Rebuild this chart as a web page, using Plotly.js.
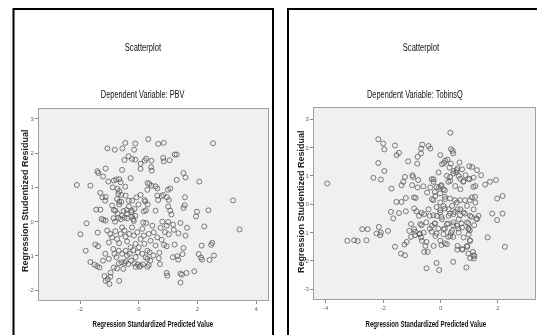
<!DOCTYPE html>
<html>
<head>
<meta charset="utf-8">
<script src="https://cdn.plot.ly/plotly-3.0.1.min.js"></script>
<style>html,body{margin:0;padding:0;background:#fff;}#chart{width:537px;height:335px;filter:grayscale(1);}</style>
</head>
<body>
<div id="chart"></div>
<script>
// Left chart: Dependent Variable PBV
const pbvX = [-2.11,-1.65,-1.07,-0.82,-0.56,-0.46,-0.12,-0.16,0.32,0.66,0.85,2.53,-0.35,-0.23,-0.12,-0.49,0.06,0.20,0.25,0.43,0.83,0.85,1.05,1.22,1.29,0.06,0.42,0.44,-1.41,-1.38,-1.13,-1.22,-0.57,-1.04,-0.85,-0.77,-0.67,-0.62,-0.89,-0.73,-0.67,-0.70,-0.46,-0.28,0.30,0.36,0.43,0.57,0.63,0.29,0.99,1.07,1.29,1.52,1.59,2.06,1.57,3.21,-1.31,-1.24,-1.13,-1.15,0.63,0.78,0.83,0.96,1.02,0.66,0.19,0.22,0.30,-0.67,-0.60,-0.67,-0.34,-0.01,0.24,0.17,0.57,1.00,1.07,1.11,1.56,1.52,1.98,1.95,2.37,-1.45,-1.31,-0.85,-0.80,-0.52,-0.42,-0.24,-0.15,-0.12,-1.78,-1.27,-1.21,-1.13,-0.86,-0.81,-0.70,-0.62,-0.49,-0.40,-0.23,-0.19,-0.17,0.15,0.25,0.80,1.00,1.17,1.42,1.64,2.23,3.43,
-1.99,-1.40,-1.48,-1.39,-1.81,-1.65,-1.51,-1.42,-1.34,-1.22,-1.17,-1.13,-1.06,-0.97,-1.00,-0.67,-0.96,-0.85,-0.74,-0.68,-0.59,-0.53,-0.49,-0.44,-0.36,-0.26,-0.15,-0.04,0.06,0.14,0.29,0.34,-0.11,0.02,0.68,0.72,0.95,0.97,1.34,1.42,1.47,1.42,1.62,1.89,1.16,1.31,2.04,2.12,2.15,2.41,2.56,2.14,2.46,2.50,1.59,1.22,1.52,1.49,1.02,1.19,1.35,0.74,0.95,0.89,0.78,0.86,0.95,0.37,0.39,0.70,
-0.97,-0.91,-0.80,-0.74,-0.67,-0.62,-0.57,-0.49,-0.45,-0.40,-0.33,-0.28,-0.23,-0.17,-0.11,-0.05,-0.03,0.06,0.12,0.17,0.19,0.29,0.34,0.40,0.46,0.51,0.57,0.63,-0.87,-0.83,-0.76,-0.68,-0.57,-0.45,-0.40,-0.31,-0.19,-0.11,0.00,0.12,0.23,0.29,0.49,-1.08,-1.02,-1.14,-1.02,
-0.91,-0.74,-0.60,-0.45,-0.34,-0.23,-0.08,0.06,-0.72,-0.57,-0.40,-0.26];
const pbvY = [1.07,1.05,2.14,2.10,2.14,2.30,2.28,2.10,2.41,2.27,2.30,2.29,1.91,1.83,1.81,1.80,1.69,1.78,1.84,1.78,1.86,1.76,1.79,1.96,1.96,1.54,1.59,1.49,1.47,1.42,1.55,1.32,1.51,1.17,1.20,1.23,1.24,1.15,1.00,0.96,0.89,0.81,1.02,1.27,1.13,1.10,1.05,1.03,0.97,0.93,0.93,0.97,1.22,1.42,1.29,1.17,0.71,0.62,0.84,0.71,0.72,0.61,0.76,0.74,0.78,0.71,0.63,0.63,0.63,0.59,0.50,0.58,0.58,0.50,0.61,0.50,0.33,0.30,0.32,0.44,0.32,0.21,0.48,0.40,0.29,0.15,0.33,0.35,0.35,0.34,0.32,0.31,0.34,0.32,0.37,0.17,-0.05,0.08,0.05,0.03,0.10,0.00,0.11,0.07,0.12,0.10,0.14,0.07,0.02,-0.03,-0.04,0.00,-0.01,-0.09,-0.04,-0.18,-0.14,-0.23,
-0.37,-0.32,-0.67,-0.72,-0.85,-1.18,-1.26,-1.30,-1.34,-1.14,-1.59,-1.73,-1.68,-1.61,-1.82,-1.73,-1.49,-1.34,-1.37,-1.22,-1.19,-1.38,-1.21,-1.16,-1.24,-1.14,-1.22,-1.25,-1.29,-1.25,-1.32,-1.27,-1.32,-1.32,-1.07,-1.24,-1.50,-1.58,-1.11,-1.52,-1.55,-1.78,-1.50,-1.45,-1.04,-1.01,-0.95,-1.05,-1.11,-1.12,-0.99,-0.70,-0.68,-0.62,-0.41,-0.67,-0.77,-0.95,-0.37,-0.24,-0.34,-0.18,-0.12,-0.31,-0.53,-0.68,-0.72,-0.90,-1.14,-0.91,
-0.36,-0.46,-0.28,-0.51,-0.63,-0.36,-0.17,-0.26,-0.44,-0.58,-0.36,-0.75,-0.17,-0.41,-0.65,-0.31,-0.90,-0.51,-0.21,-0.41,-0.65,-0.85,-0.36,-0.56,-0.12,-0.31,-0.70,-0.46,-0.80,-0.94,-1.04,-0.85,-0.94,-0.85,-0.99,-0.94,-0.83,-1.04,-0.75,-0.94,-1.04,-1.09,-0.99,-0.26,-0.61,-0.94,-1.09,
0.47,0.66,0.78,0.76,0.44,0.61,0.71,0.78,0.23,0.18,0.23,0.27];

// Right chart: Dependent Variable TobinsQ
const tqX = [-3.95,-2.17,-2.00,-1.96,-1.59,-1.53,-1.45,-2.17,-1.96,-2.34,-2.08,-1.71,-1.36,-1.30,-1.24,-1.13,-0.81,-0.80,-0.68,-0.64,-0.68,-0.98,-0.78,-0.60,-0.99,-1.54,-1.36,-1.21,-0.93,-0.87,-1.73,-1.45,-1.65,-1.21,-0.92,-0.84,-0.75,-0.66,-0.57,-0.01,0.34,0.36,0.42,0.44,0.12,0.24,0.36,1.00,1.10,1.27,1.41,1.55,1.72,1.93,1.97,2.16,1.80,2.16,
-0.31,-0.25,-0.14,-0.06,0.03,0.15,0.27,0.33,0.44,0.56,0.68,0.79,0.87,0.97,1.14,1.20,1.02,0.85,0.68,0.50,0.33,0.15,-0.02,-0.20,-0.25,-0.14,-0.02,0.15,0.33,0.50,0.68,0.85,1.08,1.25,-0.25,0.03,0.27,0.44,0.73,0.97,1.17,-0.20,-0.37,-0.08,0.15,0.62,0.97,
-3.25,-3.01,-2.89,-2.58,-2.73,-2.54,-2.15,-2.08,-2.23,-2.10,-1.83,-1.59,-1.38,-1.24,-1.26,-1.18,-1.09,-0.89,-0.89,-1.03,-0.72,-0.66,-0.49,-0.57,-0.45,-0.49,-0.31,-0.20,-0.14,-0.05,-0.14,0.03,0.15,0.27,0.36,0.44,0.44,0.58,0.77,0.93,0.97,1.02,1.02,0.90,1.14,1.16,1.64,2.24,
-0.96,-0.80,-0.71,-1.03,-0.92,-0.74,-0.68,1.32,1.97,1.18,1.13,1.03,-0.24,
-0.24,-0.07,0.01,0.10,0.22,0.34,0.45,0.51,0.63,0.69,0.80,-0.18,-0.01,0.16,0.28,0.40,0.57,0.69,0.80,0.92,-0.13,0.05,0.22,0.45,0.63,0.75,0.92,-0.30,-0.18,0.10,0.34,0.63,0.80,0.98,-0.42,-0.47,
-0.36,-0.42,0.16,0.05,0.31,0.55,0.59,0.75,0.66,1.01,1.15,1.21,1.09,1.21,1.15,1.03,1.27,0.98,1.03,0.92,0.75,0.59,-0.36,-0.30,-0.38,-0.50,-0.59,-0.65,-0.53,0.10,-0.01,0.28,0.45,0.59,0.10,0.40,0.57,-0.01,0.22];
const tqY = [0.73,2.29,2.14,1.93,2.07,1.73,1.81,1.45,1.17,0.93,0.87,0.55,0.67,0.79,0.96,1.51,1.43,1.67,1.79,2.10,1.96,1.02,0.85,0.63,0.67,0.08,0.08,0.22,0.24,0.22,-0.27,-0.31,-0.50,-0.25,-0.15,-0.25,-0.41,-0.31,-0.35,1.73,2.52,1.94,1.88,1.79,1.45,1.57,1.43,1.34,1.31,1.20,1.02,0.69,0.79,0.85,0.20,0.29,-0.33,-0.33,
0.88,0.79,0.61,0.59,0.67,0.49,0.79,0.96,1.08,1.20,0.90,0.79,1.02,0.90,0.61,0.26,0.14,0.14,0.14,0.14,0.20,0.26,0.38,0.43,0.14,-0.10,-0.21,-0.15,-0.33,-0.27,-0.39,-0.33,-0.45,-0.50,-0.39,-0.45,-0.68,-0.74,-0.68,-0.68,-0.74,-0.68,-0.86,-0.86,-0.86,-0.86,-0.86,
-1.29,-1.27,-1.30,-1.27,-0.88,-0.88,-0.80,-1.00,-1.03,-1.09,-0.94,-1.50,-1.74,-1.80,-1.42,-1.33,-0.94,-0.97,-1.09,-1.15,-1.03,-0.74,-1.33,-1.68,-1.68,-2.26,-0.97,-0.68,-1.03,-2.32,-2.07,-1.44,-1.38,-1.15,-1.01,-1.15,-2.03,-1.60,-1.60,-1.50,-1.74,-1.27,-0.92,-2.23,-1.80,-1.91,-1.17,-1.50,
0.96,0.59,-0.70,-0.70,-0.88,-1.06,-1.17,-0.41,-0.56,-1.82,-1.68,-1.90,-1.47,
0.88,1.12,0.64,0.53,1.00,0.82,1.17,0.64,1.00,0.53,0.82,0.29,0.06,0.18,-0.18,-0.06,0.06,-0.18,-0.29,-0.06,-0.41,-0.53,-0.70,-0.64,-0.53,-0.82,-0.64,-0.76,-1.12,-1.06,-1.12,-1.00,-1.17,-1.06,-0.18,0.41,
1.96,2.05,1.53,1.41,1.29,1.12,1.26,1.23,1.47,0.88,0.94,0.64,0.24,0.06,-0.18,-0.41,-0.53,-0.88,-1.29,-1.47,-1.58,-1.47,0.59,0.18,-0.41,-0.64,-1.00,-1.29,-1.47,-0.06,-0.29,-0.41,-0.35,-0.18,-0.88,-0.94,-0.76,-1.29,-1.41];

const pbvXTicks = [-2, 0, 2, 4];
const pbvXTickText = ["-2", "0", "2", "4"];
const pbvYTicks = [-2, -1, 0, 1, 2, 3];
const pbvYTickText = ["-2", "-1", "0", "1", "2", "3"];
const tqXTicks = [-4, -2, 0, 2];
const tqXTickText = ["-4", "-2", "0", "2"];
const tqYTicks = [-3, -2, -1, 0, 1, 2, 3];
const tqYTickText = ["-3", "-2", "-1", "0", "1", "2", "3"];

const titleText = "Scatterplot";
const subtitles = ["Dependent Variable: PBV", "Dependent Variable: TobinsQ"];
const xTitle = "Regression Standardized Predicted Value";
const yTitle = "Regression Studentized Residual";

const W = 537, H = 335;
const px = v => v / W;
const py = v => 1 - v / H;

const marker = {symbol: 'circle-open', size: 5, color: '#5a5a5a', line: {width: 0.8, color: '#5a5a5a'}};

const traces = [
  {type: 'scatter', mode: 'markers', x: pbvX, y: pbvY, xaxis: 'x', yaxis: 'y', marker: marker, hoverinfo: 'none'},
  {type: 'scatter', mode: 'markers', x: tqX, y: tqY, xaxis: 'x2', yaxis: 'y2', marker: marker, hoverinfo: 'none'}
];

const axBase = {
  showgrid: false, zeroline: false, showline: true, mirror: true,
  linecolor: '#a0a0a0', linewidth: 1,
  ticks: 'outside', ticklen: 3, tickwidth: 1, tickcolor: '#888',
  tickfont: {family: 'Liberation Sans, Arial, sans-serif', size: 6, color: '#666'},
  fixedrange: true
};

const tfont = {family: 'Liberation Sans, Arial, sans-serif', size: 10, color: '#111'};
const axfont = {family: 'Liberation Sans, Arial, sans-serif', size: 9, color: '#111'};
const yfont = {family: 'Liberation Sans, Arial, sans-serif', size: 9, color: '#222'};

function ann(text, x, y, font, extra) {
  return Object.assign({text: text, x: px(x), y: py(y), xref: 'paper', yref: 'paper',
    showarrow: false, xanchor: 'center', yanchor: 'middle', font: font}, extra || {});
}

const layout = {
  width: W, height: H,
  margin: {l: 0, r: 0, t: 0, b: 0},
  paper_bgcolor: '#ffffff',
  plot_bgcolor: '#f0f0f0',
  showlegend: false,
  xaxis: Object.assign({}, axBase, {domain: [px(39), px(268)], range: [-3.4, 4.4], tickvals: pbvXTicks, ticktext: pbvXTickText, anchor: 'y'}),
  yaxis: Object.assign({}, axBase, {domain: [py(300), py(109)], range: [-2.29, 3.29], tickvals: pbvYTicks, ticktext: pbvYTickText, anchor: 'x'}),
  xaxis2: Object.assign({}, axBase, {domain: [px(314), px(535)], range: [-4.41, 3.29], tickvals: tqXTicks, ticktext: tqXTickText, anchor: 'y2'}),
  yaxis2: Object.assign({}, axBase, {domain: [py(299), py(108)], range: [-3.34, 3.39], tickvals: tqYTicks, ticktext: tqYTickText, anchor: 'x2'}),
  shapes: [
    {type: 'rect', xref: 'paper', yref: 'paper', x0: px(13.5), x1: px(273), y0: -0.1, y1: py(9), line: {color: '#000', width: 2}, layer: 'above'},
    {type: 'rect', xref: 'paper', yref: 'paper', x0: px(288), x1: 1.1, y0: -0.1, y1: py(9), line: {color: '#000', width: 2}, layer: 'above'}
  ],
  annotations: [
    ann(titleText, 143, 47, tfont),
    ann(subtitles[0], 143, 94, tfont),
    ann(titleText, 421, 47, tfont),
    ann(subtitles[1], 415, 94, tfont),
    ann('<b>' + xTitle + '</b>', 153, 324, axfont),
    ann('<b>' + xTitle + '</b>', 426, 324, axfont),
    ann('<b>' + yTitle + '</b>', 25, 201, yfont, {textangle: -90}),
    ann('<b>' + yTitle + '</b>', 301, 202, yfont, {textangle: -90})
  ]
};

// horizontal condensation per annotation (the source uses a narrow typeface)
const squeeze = [0.76, 0.74, 0.76, 0.74, 0.68, 0.68, 1, 1];

Plotly.newPlot('chart', traces, layout, {staticPlot: true, displayModeBar: false}).then(function (gd) {
  const nodes = gd.querySelectorAll('.annotation-text');
  nodes.forEach(function (t, i) {
    const k = squeeze[i];
    if (k === undefined || k === 1) return;
    const bb = t.getBBox();
    const cx = bb.x + bb.width / 2;
    const prev = t.getAttribute('transform') || '';
    t.setAttribute('transform', prev + ' translate(' + cx + ',0) scale(' + k + ',1) translate(' + (-cx) + ',0)');
  });
});
</script>
</body>
</html>
